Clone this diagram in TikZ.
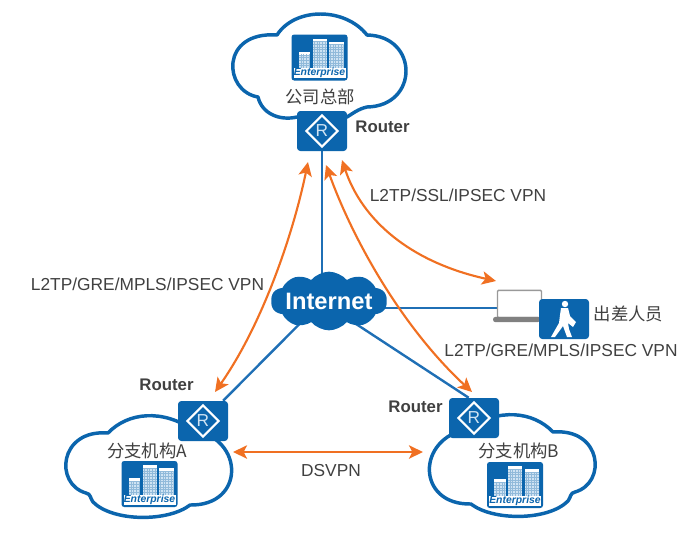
\documentclass[tikz,border=0pt]{standalone}
\usepackage{fontspec}
\setmainfont{Liberation Sans}
\newfontfamily\cjk{Noto Sans CJK SC}
\usetikzlibrary{arrows.meta,shapes.symbols,shapes.geometric,backgrounds}
\definecolor{netblue}{HTML}{0B65AD}
\definecolor{linkblue}{HTML}{1F6FB5}
\definecolor{vpnorange}{HTML}{F07022}
\definecolor{labelgrey}{HTML}{404040}
\definecolor{towerblue}{HTML}{CFE3F3}
\tikzset{
cloudline/.style={draw=netblue,line width=2.6pt,fill=white,line join=round},
link/.style={draw=linkblue,line width=1.8pt},
vpnarrow/.style={draw=vpnorange,line width=1.6pt,{Stealth[length=10.5pt,width=10pt,inset=2.5pt]}-{Stealth[length=10.5pt,width=10pt,inset=2.5pt]}},
routerbox/.style={shape=rectangle,rounded corners=2.5pt,fill=netblue,minimum width=37.5pt,minimum height=30pt,inner sep=0pt},
routermark/.style={shape=diamond,draw=white,line width=1.6pt,minimum size=24pt,inner sep=0pt,text=towerblue,font=\fontsize{13}{13}\selectfont},
routertext/.style={text=labelgrey,font=\bfseries\fontsize{12.6}{15}\selectfont,inner sep=0pt},
labeltext/.style={text=labelgrey,font=\fontsize{13}{15}\selectfont,inner sep=0pt},
sitetext/.style={text=labelgrey,font=\cjk\fontsize{13}{15}\selectfont,inner sep=0pt},
hqcloud/.pic={
\draw[cloudline] (-23,51) .. controls (-40,55) and (-58,48) .. (-62,31)
.. controls (-97,25) and (-100,-35) .. (-43,-31)
.. controls (-25,-59) and (25,-59) .. (47,-31)
.. controls (99,-30) and (99,40) .. (47,41)
.. controls (38,43) and (32,48) .. (27,51) -- cycle;
},
branchcloud/.pic={
\draw[cloudline] (45,-34) .. controls (15,-55) and (-20,-52) .. (-40,-31)
.. controls (-89,-35) and (-94,20) .. (-62,29)
.. controls (-57,30) and (-58,34) .. (-55,38)
.. controls (-35,58) and (20,58) .. (42,41)
.. controls (97,42) and (97,-25) .. (45,-34) -- cycle;
},
enterprise/.pic={
\fill[netblue,rounded corners=2pt] (-28,-23) rectangle (28,23);
\foreach \bx/\bxx/\btop in {-21/-9.5/-6,-7/7.3/-19,9.6/24/-16}{
\fill[towerblue] (\bx,\btop) rectangle (\bxx,11);
\fill[white] (\bx,\btop) rectangle (\bxx,\btop+3);
\begin{scope}
\clip (\bx,\btop+3) rectangle (\bxx,11);
\draw[netblue!45,line width=.25pt] (\bx,\btop) grid[step=2pt] (\bxx,11);
\end{scope}
}
\node (-band) at (0,15.5) [shape=rectangle,fill=white,minimum width=39pt,minimum height=7.5pt,inner sep=0pt,text=netblue,font=\bfseries\itshape\fontsize{7.8}{8}\selectfont] {Enterprise};
}
}
\begin{document}
\begin{tikzpicture}[x=.75pt,y=-.75pt]
\useasboundingbox (0,0) rectangle (696,533);

\pic (topcloud) at (320,66) {hqcloud};
\pic (acloud) at (148,464) {branchcloud};
\pic (bcloud) at (513,463) [xscale=-1] {branchcloud};

\pic (hqicon) at (319.5,57.5) {enterprise};
\pic (aicon) at (149.5,484) {enterprise};
\pic (bicon) at (515,485) {enterprise};

\node (hqsite) at (320,97) [sitetext] {公司总部};
\node (asite) at (147,451) [sitetext] {分支机构A};
\node (bsite) at (519,451) [sitetext] {分支机构B};

\node (internet) at (329,301) [shape=cloud,cloud puffs=10,cloud puff arc=100,aspect=2,fill=netblue,minimum width=87pt,minimum height=44pt,inner sep=0pt] {};
\node (internettext) at (329,301) [text=white,font=\bfseries\fontsize{17.8}{20}\selectfont,inner sep=0pt] {Internet};

\node (hqrouter) at (322,131) [routerbox] {};
\node (hqmark) at (hqrouter) [routermark] {R};
\node (arouter) at (203,421) [routerbox] {};
\node (amark) at (arouter) [routermark] {R};
\node (brouter) at (474,418) [routerbox] {};
\node (bmark) at (brouter) [routermark] {R};

\node (hqlabel) at (382.5,127) [routertext] {Router};
\node (alabel) at (166.5,385) [routertext] {Router};
\node (blabel) at (415.5,407) [routertext] {Router};

\node (laptop) at (519.5,304) [shape=rectangle,draw=gray!80,line width=1.1pt,fill=white,rounded corners=.8pt,minimum width=33pt,minimum height=20.5pt,inner sep=0pt] {};
\node (laptopbase) at (516.5,319.5) [shape=rectangle,fill=gray,rounded corners=1.5pt,minimum width=35pt,minimum height=3.8pt,inner sep=0pt] {};
\node (traveller) at (564,319) [routerbox] {};
\begin{scope}[shift={(564,319)}]
\fill[white] (1,-15) circle (3.2);
\fill[white] (-3,-11) -- (4,-11) -- (6,-3) -- (12,3) -- (9,8) -- (4,4) -- (5,10) -- (8,18) -- (3,18) -- (-1,7) -- (-9,18) -- (-13,18) -- (-5,4) -- (-4,-4) -- cycle;
\end{scope}
\node (travellertext) at (628.5,314) [sitetext] {出差人员};

\begin{scope}[on background layer]
\draw[link] (hqrouter.south) -- (hqrouter.south |- internet.center);
\draw[link] (arouter) -- ([xshift=-5pt]internet.center);
\draw[link] ([xshift=-4pt]brouter.north) -- ([xshift=-6pt]internet.center);
\draw[link] (internet.center |- laptop.west) ++(0,4) -- (laptop.west |- 0,308);
\end{scope}

\coordinate (hqa) at (308,162);
\coordinate (ahq) at (215,392);
\coordinate (hqb) at (326,165);
\coordinate (bhq) at (472,392);
\coordinate (hqlaptop) at (342,160);
\coordinate (laptophq) at (496,281);
\coordinate (ab) at (233,452);
\coordinate (ba) at (423,452);

\draw[vpnarrow] (hqa) .. controls (293,235) and (262,325) .. (ahq);
\draw[vpnarrow] (hqb) .. controls (355,245) and (405,330) .. (bhq);
\draw[vpnarrow] (hqlaptop) .. controls (362,220) and (410,262) .. (laptophq);
\draw[vpnarrow] (ab) -- (ba);

\node (dsvpn) at (331,471) [labeltext] {DSVPN};
\node (sslvpn) at (458,195) [labeltext] {L2TP/SSL/IPSEC VPN};
\node (leftvpn) at (147.5,284) [labeltext] {L2TP/GRE/MPLS/IPSEC VPN};
\node (rightvpn) at (561,350) [labeltext] {L2TP/GRE/MPLS/IPSEC VPN};
\end{tikzpicture}
\end{document}
